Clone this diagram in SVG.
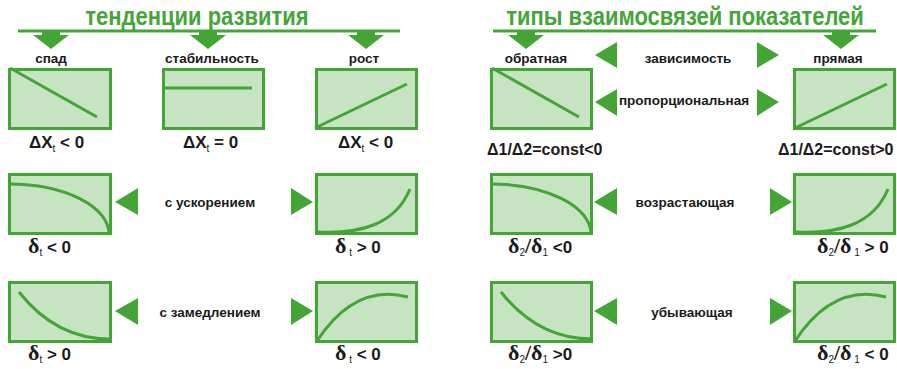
<svg xmlns="http://www.w3.org/2000/svg" width="897" height="369" viewBox="0 0 897 369">
<defs>
<style>
.title{font-family:"Liberation Sans",Arial,sans-serif;font-weight:bold;font-size:22px;fill:#45a53a;text-anchor:middle}
.lbl{font-family:"Liberation Sans",Arial,sans-serif;font-weight:bold;font-size:13.5px;fill:#1a1a1a;text-anchor:middle}
.f{font-family:"Liberation Sans",Arial,sans-serif;font-weight:bold;font-size:17px;fill:#1a1a1a}
.fc{font-family:"Liberation Sans",Arial,sans-serif;font-weight:bold;font-size:16px;fill:#1a1a1a}
.d{font-family:"Liberation Serif","Times New Roman",serif;font-size:22px;font-weight:bold}
.sub{font-size:10px;font-weight:normal}
.box{fill:#c6e4c1;stroke:#43a536;stroke-width:3}
.crv{fill:none;stroke:#43a536;stroke-width:3}
.ln{fill:none;stroke:#43a536;stroke-width:3}
.tri{fill:#43a536}
</style>
</defs>
<rect width="897" height="369" fill="#ffffff"/>

<g id="connectors">
<line class="ln" x1="18" y1="31" x2="400" y2="31"/>
<line class="ln" x1="493" y1="31" x2="876" y2="31"/>
<polygon class="tri" points="42,31 60,31 60,35 69,35 51,49 33,35 42,35"/>
<polygon class="tri" points="199,31 217,31 217,35 226,35 208,49 190,35 199,35"/>
<polygon class="tri" points="357,31 375,31 375,35 384,35 366,49 348,35 357,35"/>
<polygon class="tri" points="517,31 535,31 535,35 544,35 526,49 508,35 517,35"/>
<polygon class="tri" points="832,31 850,31 850,35 859,35 841,49 823,35 832,35"/>
<polygon class="tri" points="595,55 617,42 617,68"/>
<polygon class="tri" points="779,55 757,42 757,68"/>
<polygon class="tri" points="595,102 617,89 617,116"/>
<polygon class="tri" points="779,102 757,89 757,116"/>
<polygon class="tri" points="115,202 138,188 138,215"/>
<polygon class="tri" points="313,202 291,188 291,215"/>
<polygon class="tri" points="115,311 138,298 138,325"/>
<polygon class="tri" points="313,311 291,298 291,325"/>
<polygon class="tri" points="594,202 617,188 617,215"/>
<polygon class="tri" points="792,202 770,188 770,215"/>
<polygon class="tri" points="594,311 617,298 617,325"/>
<polygon class="tri" points="792,311 770,298 770,325"/>
</g>

<g id="titles">
<text class="title" transform="translate(197,25) scale(1,1.15)" x="0" y="0">тенденции развития</text>
<text class="title" transform="translate(685,25) scale(1,1.15)" x="0" y="0">типы взаимосвязей показателей</text>
</g>

<g id="spad">
<text class="lbl" x="51" y="63">спад</text>
<rect class="box" x="9.5" y="69.5" width="101" height="59"/>
<line class="crv" x1="10" y1="68" x2="97" y2="117"/>
<text class="f" x="29" y="148">ΔX<tspan class="sub" dy="4">t</tspan><tspan dy="-4"> &lt; 0</tspan></text>
</g>

<g id="stab">
<text class="lbl" x="212" y="63">стабильность</text>
<rect class="box" x="163.5" y="69.5" width="100" height="59"/>
<line class="crv" x1="163" y1="88" x2="252" y2="88"/>
<text class="f" x="183" y="148">ΔX<tspan class="sub" dy="4">t</tspan><tspan dy="-4"> = 0</tspan></text>
</g>

<g id="rost">
<text class="lbl" x="364" y="63">рост</text>
<rect class="box" x="316.5" y="69.5" width="100" height="59"/>
<line class="crv" x1="315" y1="128" x2="407" y2="84"/>
<text class="f" x="338" y="148">ΔX<tspan class="sub" dy="4">t</tspan><tspan dy="-4"> &lt; 0</tspan></text>
</g>

<g id="obratnaya">
<text class="lbl" x="536" y="63">обратная</text>
<rect class="box" x="491.5" y="69.5" width="100" height="59"/>
<line class="crv" x1="492" y1="68" x2="579" y2="117"/>
<text class="fc" x="487" y="155">Δ1/Δ2=const&lt;0</text>
</g>

<g id="pryamaya">
<text class="lbl" x="838" y="63">прямая</text>
<rect class="box" x="794.5" y="69.5" width="100" height="59"/>
<line class="crv" x1="795" y1="128" x2="887" y2="84"/>
<text class="fc" x="778" y="155">Δ1/Δ2=const&gt;0</text>
</g>

<g id="mid-labels">
<text class="lbl" x="688" y="63">зависимость</text>
<text class="lbl" x="684" y="105">пропорциональная</text>
<text class="lbl" x="210" y="207">с ускорением</text>
<text class="lbl" x="210" y="317">с замедлением</text>
<text class="lbl" x="685" y="207">возрастающая</text>
<text class="lbl" x="692" y="317">убывающая</text>
</g>

<g id="acc-down">
<rect class="box" x="9.5" y="174.5" width="101" height="59"/>
<path class="crv" d="M9,184 A100,50 0 0 1 109,234"/>
<text class="f" x="28" y="253"><tspan class="d">δ</tspan><tspan class="sub" dy="3">t</tspan><tspan dy="-3"> &lt; 0</tspan></text>
</g>

<g id="acc-up">
<rect class="box" x="316.5" y="174.5" width="100" height="59"/>
<path class="crv" d="M318,232 C360,234 395,225 410,189"/>
<text class="f" x="335" y="253"><tspan class="d">δ</tspan><tspan class="sub" dy="3"> t</tspan><tspan dy="-3"> &gt; 0</tspan></text>
</g>

<g id="dec-down">
<rect class="box" x="9.5" y="282.5" width="101" height="59"/>
<path class="crv" d="M19,292 C45,325 75,339 110,339"/>
<text class="f" x="28" y="360"><tspan class="d">δ</tspan><tspan class="sub" dy="3">t</tspan><tspan dy="-3"> &gt; 0</tspan></text>
</g>

<g id="dec-up">
<rect class="box" x="316.5" y="282.5" width="100" height="59"/>
<path class="crv" d="M317,341 Q355,283 408,297"/>
<text class="f" x="335" y="360"><tspan class="d">δ</tspan><tspan class="sub" dy="3"> t</tspan><tspan dy="-3"> &lt; 0</tspan></text>
</g>

<g id="inc-inv">
<rect class="box" x="491.5" y="174.5" width="100" height="59"/>
<path class="crv" d="M491,184 A100,50 0 0 1 591,234"/>
<text class="f" x="508" y="253"><tspan class="d">δ</tspan><tspan class="sub" dy="3">2</tspan><tspan class="d" dy="-3">/δ</tspan><tspan class="sub" dy="3">1</tspan><tspan dy="-3"> &lt;0</tspan></text>
</g>

<g id="inc-dir">
<rect class="box" x="794.5" y="174.5" width="100" height="59"/>
<path class="crv" d="M796,232 C838,234 873,225 888,189"/>
<text class="f" x="817" y="253"><tspan class="d">δ</tspan><tspan class="sub" dy="3">2</tspan><tspan class="d" dy="-3">/δ</tspan><tspan class="sub" dy="3"> 1</tspan><tspan dy="-3"> &gt; 0</tspan></text>
</g>

<g id="dec-inv">
<rect class="box" x="491.5" y="282.5" width="100" height="59"/>
<path class="crv" d="M501,292 C527,325 557,339 592,339"/>
<text class="f" x="508" y="360"><tspan class="d">δ</tspan><tspan class="sub" dy="3">2</tspan><tspan class="d" dy="-3">/δ</tspan><tspan class="sub" dy="3">1</tspan><tspan dy="-3"> &gt;0</tspan></text>
</g>

<g id="dec-dir">
<rect class="box" x="794.5" y="282.5" width="100" height="59"/>
<path class="crv" d="M795,341 Q833,283 886,297"/>
<text class="f" x="817" y="360"><tspan class="d">δ</tspan><tspan class="sub" dy="3">2</tspan><tspan class="d" dy="-3">/δ</tspan><tspan class="sub" dy="3"> 1</tspan><tspan dy="-3"> &lt; 0</tspan></text>
</g>
</svg>
